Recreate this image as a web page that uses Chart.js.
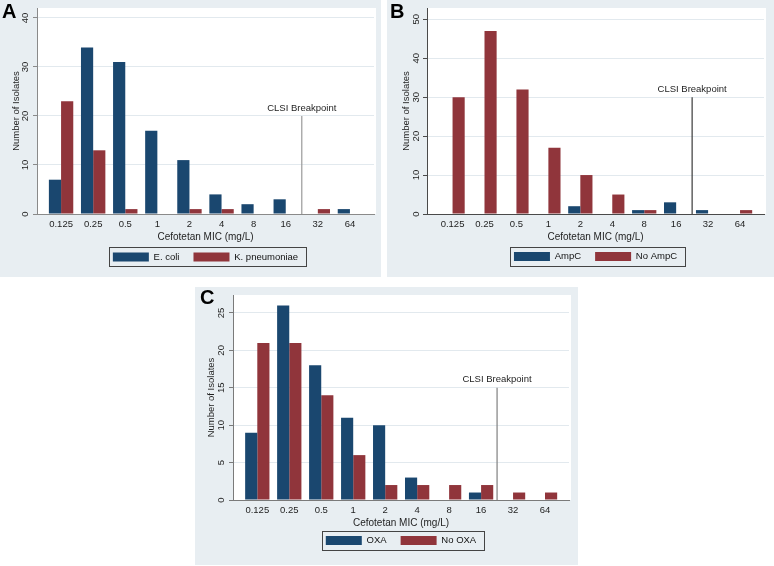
<!DOCTYPE html>
<html>
<head>
<meta charset="utf-8">
<script src="https://cdn.jsdelivr.net/npm/chart.js@4.4.0/dist/chart.umd.min.js"></script>
<style>
  body { margin: 0; background: #fff; width: 774px; height: 566px; position: relative; overflow: hidden; }
  canvas { position: absolute; }
</style>
</head>
<body>
<canvas id="chartA" width="381" height="277" style="left:0;top:0"></canvas>
<canvas id="chartB" width="387" height="277" style="left:387px;top:0"></canvas>
<canvas id="chartC" width="383" height="278" style="left:195px;top:287px"></canvas>
<script>
// MIC categories (x axis)
const micLabels = ["0.125", "0.25", "0.5", "1", "2", "4", "8", "16", "32", "64"];

// Panel A
const ecoli = [7, 34, 31, 17, 11, 4, 2, 3, 0, 1];
const kpneumoniae = [23, 13, 1, 0, 1, 1, 0, 0, 1, 0];
// Panel B
const ampc = [0, 0, 0, 0, 2, 0, 1, 3, 1, 0];
const noAmpc = [30, 47, 32, 17, 10, 5, 1, 0, 0, 1];
// Panel C
const oxa = [9, 26, 18, 11, 10, 3, 0, 1, 0, 0];
const noOxa = [21, 21, 14, 6, 2, 2, 2, 2, 1, 1];

const yTicksA = [0, 10, 20, 30, 40];
const yTicksB = [0, 10, 20, 30, 40, 50];
const yTicksC = [0, 5, 10, 15, 20, 25];

// CLSI breakpoint between 16 and 32, line drawn up to these counts
const breakX = 7.5;
const breakTopA = 20;
const breakTopB = 30;
const breakTopC = 15;

const NAVY = "#1a476f";
const MAROON = "#90353b";
const PANEL_BG = "#e8eef2";
const FONT = "'Liberation Sans', Arial, sans-serif";

Chart.defaults.font.family = FONT;
Chart.defaults.font.size = 9.5;
Chart.defaults.color = "#1e1e1e";
Chart.defaults.animation = false;

const panelPlugin = {
  id: "panel",
  beforeDraw(chart) {
    const { ctx, chartArea: a } = chart;
    ctx.save();
    ctx.fillStyle = PANEL_BG;
    ctx.fillRect(0, 0, chart.width, chart.height);
    ctx.fillStyle = "#fff";
    ctx.fillRect(a.left, a.top, a.right - a.left + 2, a.bottom - a.top);
    ctx.restore();
  },
  afterDatasetsDraw(chart, args, opts) {
    const { ctx, scales: { x, y } } = chart;
    ctx.save();
    ctx.font = "9.5px " + FONT;
    ctx.fillStyle = "#1e1e1e";
    ctx.textAlign = "center";
    ctx.textBaseline = "middle";
    ctx.fillText("CLSI Breakpoint", x.getPixelForValue(breakX), y.getPixelForValue(opts.breakTop) - 8);
    ctx.restore();
  },
  afterDraw(chart, args, opts) {
    const { ctx } = chart;
    const hb = chart.legend.legendHitBoxes;
    if (hb && hb.length) {
      const first = hb[0], last = hb[hb.length - 1];
      const l = Math.round(first.left - 4), r = Math.round(last.left + last.width + 8);
      const t = Math.round(first.top - 5), b = Math.round(first.top + 14);
      ctx.save();
      ctx.strokeStyle = "#444";
      ctx.lineWidth = 1;
      ctx.strokeRect(l + 0.5, t + 0.5, r - l, b - t);
      ctx.restore();
    }
    // panel letter
    ctx.save();
    ctx.font = "bold 20px " + FONT;
    ctx.fillStyle = "#000";
    ctx.textAlign = "left";
    ctx.textBaseline = "alphabetic";
    ctx.fillText(opts.letter, opts.letterX, opts.letterY);
    ctx.restore();
  }
};

function drawPanel(id, p) {
  new Chart(document.getElementById(id), {
    type: "bar",
    data: {
      datasets: [
        { label: p.names[0], data: p.first.map((v, i) => ({ x: i, y: v })), backgroundColor: NAVY, borderWidth: 0 },
        { label: p.names[1], data: p.second.map((v, i) => ({ x: i, y: v })), backgroundColor: MAROON, borderWidth: 0 },
        {
          type: "line", label: "CLSI Breakpoint",
          data: [{ x: breakX, y: 0 }, { x: breakX, y: p.breakTop }],
          borderColor: p.lineColor, borderWidth: 1.2, pointRadius: 0, fill: false
        }
      ]
    },
    options: {
      responsive: false,
      categoryPercentage: 0.76,
      barPercentage: 1,
      layout: { padding: { top: 8, left: 0, right: p.padRight, bottom: p.padBottom } },
      scales: {
        x: {
          type: "linear", min: p.xMin, max: 9.75, offset: false,
          afterBuildTicks: s => { s.ticks = micLabels.map((_, i) => ({ value: i })); },
          afterFit: s => { s.height = p.xAxisH; s.paddingLeft = 0; s.paddingRight = 0; },
          grid: { display: false, drawTicks: false, offset: false },
          border: { color: p.axisColor, width: 1 },
          ticks: { autoSkip: false, maxRotation: 0, minRotation: 0, padding: 5, callback: v => micLabels[v] },
          title: { display: true, text: "Cefotetan MIC (mg/L)", font: { size: 10 }, padding: { top: 0, bottom: p.xTitlePad } }
        },
        y: {
          min: 0, max: p.yMax,
          afterBuildTicks: s => { s.ticks = p.yTicks.map(v => ({ value: v })); },
          afterFit: s => { s.width = p.yAxisW; s.paddingTop = 0; s.paddingBottom = 0; },
          grid: { color: "#e2e9ee", lineWidth: 1, tickLength: 4, tickColor: p.axisColor },
          border: { color: p.axisColor, width: 1 },
          ticks: { minRotation: 90, maxRotation: 90, crossAlign: "center", padding: p.yTickPad },
          title: { display: true, text: "Number of Isolates", padding: { top: p.yTitlePad, bottom: 0 } }
        }
      },
      plugins: {
        legend: {
          position: "bottom", fullSize: false,
          labels: { boxWidth: 36, boxHeight: 9, padding: 14, color: "#111", filter: item => item.datasetIndex < 2 }
        },
        tooltip: { enabled: false },
        panel: { breakTop: p.breakTop, letter: p.letter, letterX: p.letterX, letterY: p.letterY }
      }
    },
    plugins: [panelPlugin]
  });
}

drawPanel("chartA", {
  names: ["E. coli", "K. pneumoniae"], first: ecoli, second: kpneumoniae,
  yTicks: yTicksA, yMax: 42.04, breakTop: breakTopA, xMin: -0.75,
  yAxisW: 37, padRight: 7, yTickPad: 2.4, yTitlePad: 10.5,
  xAxisH: 24.25, padBottom: 5.25, xTitlePad: -5.25,
  axisColor: "#8a8a8a", lineColor: "#9a9a9a",
  letter: "A", letterX: 2, letterY: 18
});

drawPanel("chartB", {
  names: ["AmpC", "No AmpC"], first: ampc, second: noAmpc,
  yTicks: yTicksB, yMax: 52.9, breakTop: breakTopB, xMin: -0.8,
  yAxisW: 40, padRight: 10, yTickPad: 1, yTitlePad: 14,
  xAxisH: 23.75, padBottom: 5.75, xTitlePad: -5.75,
  axisColor: "#4a4a4a", lineColor: "#3a3a3a",
  letter: "B", letterX: 3, letterY: 18
});

drawPanel("chartC", {
  names: ["OXA", "No OXA"], first: oxa, second: noOxa,
  yTicks: yTicksC, yMax: 27.4, breakTop: breakTopC, xMin: -0.76,
  yAxisW: 38, padRight: 9, yTickPad: 2.5, yTitlePad: 11,
  xAxisH: 21.75, padBottom: 9.75, xTitlePad: -7.75,
  axisColor: "#7a7a7a", lineColor: "#808080",
  letter: "C", letterX: 5, letterY: 17
});
</script>
</body>
</html>
